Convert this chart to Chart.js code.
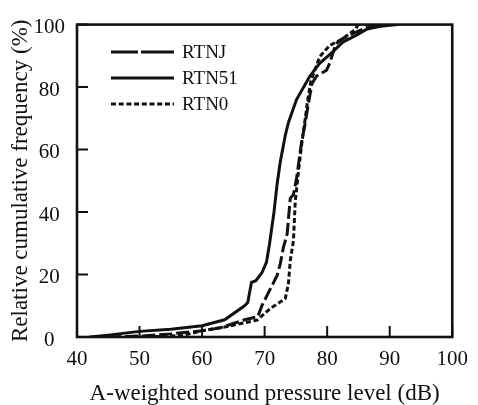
<!DOCTYPE html>
<html>
<head>
<meta charset="utf-8">
<script src="https://cdn.jsdelivr.net/npm/chart.js@4.4.1/dist/chart.umd.min.js"></script>
<style>
  html, body { margin: 0; padding: 0; background: #fff; }
  #wrap { width: 478px; height: 405px; }
</style>
</head>
<body>
<div id="wrap"><canvas id="c" width="478" height="405"></canvas></div>
<script>
// ---- data ----
const seriesNames = ['RTNJ', 'RTN51', 'RTN0'];

const rtnjDb  = [45, 50, 55, 60, 63, 66.8, 68.9, 69.6, 72, 72.5, 73, 73.6, 74.1, 74.6, 75.1, 75.9, 76.4, 77.2, 77.6, 78.3, 79.9, 80.4, 81.4, 82.5, 84.6, 86.6, 88];
const rtnjPct = [0, 0.3, 1, 2, 3, 5.5, 6.5, 10.2, 19.7, 23.4, 28.6, 33, 44.4, 45.5, 50.7, 62.3, 67.5, 77, 81.2, 83.5, 85.4, 87.6, 93.9, 95.5, 97.6, 99.3, 100];

const rtn51Db  = [42, 45, 50, 55, 60, 63.6, 66.8, 67.3, 67.9, 68.6, 69.6, 70.3, 70.8, 71.5, 72, 72.5, 73.3, 73.8, 75.1, 77.2, 78.8, 80.9, 82.5, 84.6, 86.4, 88.5, 91.3];
const rtn51Pct = [0, 0.6, 1.8, 2.5, 3.6, 5.5, 10, 11, 17.5, 18, 20.7, 24, 30, 40, 49, 56, 64.5, 68.6, 76, 83.4, 87.6, 91.3, 94.4, 96.5, 98.6, 99.5, 100];

const rtn0Db  = [50, 53, 57, 60, 63.6, 68.8, 70.9, 73.3, 73.8, 74.1, 74.6, 74.9, 75.4, 75.9, 76.4, 76.9, 77.4, 78.8, 80.4, 82.5, 83.5, 84.6, 84.9];
const rtn0Pct = [0, 0.2, 0.5, 2, 3.2, 5.4, 9.1, 12.3, 17, 24.4, 30.7, 43.4, 52.8, 61.3, 68.6, 76, 82, 89.7, 93.3, 95.5, 97, 98.6, 100];

const xTicks = [40, 50, 60, 70, 80, 90, 100];
const yTicks = [0, 20, 40, 60, 80, 100];

const xTitle = 'A-weighted sound pressure level (dB)';
const yTitle = 'Relative cumulative frequency (%)';

function pts(xs, ys) { return xs.map((x, i) => ({ x: x, y: ys[i] })); }

const FONT = "'Liberation Serif', 'Times New Roman', serif";
const INK = '#111';

// frame + inward ticks
const framePlugin = {
  id: 'frame',
  afterDatasetsDraw(chart) {
    const { ctx, chartArea: a, scales } = chart;
    ctx.save();
    ctx.strokeStyle = INK;
    ctx.lineWidth = 2.6;
    ctx.strokeRect(a.left, a.top, a.right - a.left, a.bottom - a.top);
    ctx.lineWidth = 2;
    ctx.beginPath();
    xTicks.forEach(v => {
      const px = scales.x.getPixelForValue(v);
      ctx.moveTo(px, a.bottom);
      ctx.lineTo(px, a.bottom - 11);
    });
    yTicks.forEach(v => {
      const py = scales.y.getPixelForValue(v);
      ctx.moveTo(a.left, py);
      ctx.lineTo(a.left + 11, py);
    });
    ctx.stroke();
    ctx.restore();
  }
};

// legend drawn inside the plot
const legendPlugin = {
  id: 'innerLegend',
  afterDraw(chart, args, opts) {
    const { ctx } = chart;
    ctx.save();
    chart.data.datasets.forEach((ds, i) => {
      const y = opts.rows[i];
      ctx.strokeStyle = INK;
      ctx.lineWidth = ds.borderWidth;
      ctx.setLineDash(ds.legendDash || ds.borderDash || []);
      ctx.lineDashOffset = ds.legendDashOffset || 0;
      ctx.beginPath();
      ctx.moveTo(opts.x0, y);
      ctx.lineTo(opts.x1, y);
      ctx.stroke();
      ctx.setLineDash([]);
      ctx.fillStyle = INK;
      ctx.font = opts.font;
      ctx.textBaseline = 'middle';
      ctx.textAlign = 'left';
      ctx.fillText(ds.label, opts.tx, y + 1);
    });
    ctx.restore();
  }
};

new Chart(document.getElementById('c'), {
  type: 'scatter',
  data: {
    datasets: [
      { label: seriesNames[0], data: pts(rtnjDb, rtnjPct), showLine: true, borderColor: INK, borderWidth: 3,
        borderDash: [13, 4], legendDash: [12, 3, 40, 0], legendDashOffset: -15, pointRadius: 0, tension: 0 },
      { label: seriesNames[1], data: pts(rtn51Db, rtn51Pct), showLine: true, borderColor: INK, borderWidth: 3,
        borderDash: [], pointRadius: 0, tension: 0 },
      { label: seriesNames[2], data: pts(rtn0Db, rtn0Pct), showLine: true, borderColor: INK, borderWidth: 3,
        borderDash: [5, 2.7], pointRadius: 0, tension: 0 }
    ]
  },
  options: {
    responsive: false,
    animation: false,
    devicePixelRatio: 1,
    layout: { padding: { top: 20, right: 19, left: 0, bottom: 0 } },
    plugins: {
      legend: { display: false },
      tooltip: { enabled: false },
      innerLegend: { x0: 111, x1: 174, tx: 182, rows: [52, 78, 104], font: "19px " + FONT }
    },
    scales: {
      x: {
        type: 'linear', min: 40, max: 100,
        afterBuildTicks(s) { s.ticks = xTicks.map(v => ({ value: v })); },
        afterFit(s) { s.height = 68; },
        grid: { display: false, drawTicks: false },
        border: { display: false },
        ticks: { color: INK, font: { family: FONT, size: 21 }, padding: 10, maxRotation: 0 },
        title: { display: true, text: xTitle, color: INK, font: { family: FONT, size: 23, lineHeight: 1 }, padding: { top: 0, bottom: 0 } }
      },
      y: {
        type: 'linear', min: 0, max: 100,
        afterBuildTicks(s) { s.ticks = yTicks.map(v => ({ value: v })); },
        afterFit(s) { s.width = 77; },
        grid: { display: false, drawTicks: false },
        border: { display: false },
        ticks: { color: INK, font: { family: FONT, size: 21 }, padding: 12, crossAlign: 'center', labelOffset: 3 },
        title: { display: true, text: yTitle, color: INK, font: { family: FONT, size: 23, lineHeight: 1 }, padding: { top: 9, bottom: 0 } }
      }
    }
  },
  plugins: [framePlugin, legendPlugin]
});
</script>
</body>
</html>
